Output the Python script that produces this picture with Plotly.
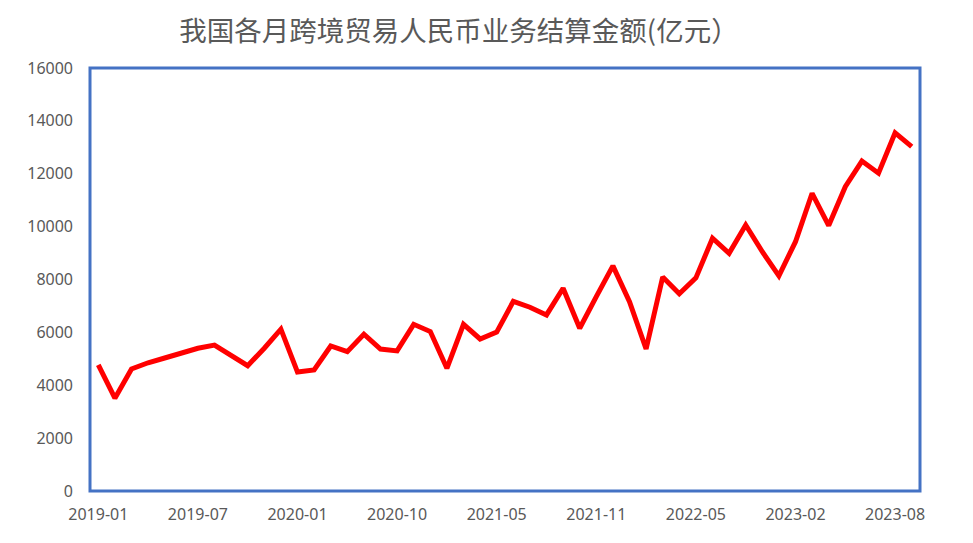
import plotly.graph_objects as go

months = (
    [f"2019-{m:02d}" for m in range(1, 13)]
    + ["2020-01", "2020-03", "2020-04", "2020-06", "2020-07", "2020-09",
       "2020-10", "2020-11", "2020-12", "2021-01", "2021-03", "2021-04"]
    + [f"2021-{m:02d}" for m in range(5, 13)]
    + ["2022-01", "2022-02", "2022-03", "2022-04", "2022-05", "2022-06",
       "2022-08", "2022-09", "2022-11", "2023-01"]
    + [f"2023-{m:02d}" for m in range(2, 10)]
)

values = [
    4770, 3510, 4615, 4850, 5030, 5210, 5400, 5520, 5150, 4740, 5400, 6120,
    4500, 4580, 5485, 5270, 5930, 5370, 5300, 6305, 6030, 4640, 6305, 5750,
    6010, 7175, 6950, 6660, 7670, 6155, 7350, 8515, 7160, 5370, 8095, 7460,
    8060, 9560, 8990, 10060, 9050, 8140, 9430, 11260, 10040, 11510, 12480, 12020,
    13550, 13025,
]

tick_labels = months[::6]
y_ticks = list(range(0, 16001, 2000))

fig = go.Figure()
fig.add_trace(go.Scatter(
    x=months, y=values, mode="lines",
    line=dict(color="#FF0000", width=5),
    hoverinfo="x+y",
))

font_axis = dict(family="Noto Sans, Open Sans, sans-serif", size=16, color="#595959")

W, H = 957, 527  # page body has an 8px margin
fig.update_layout(
    width=W, height=H,
    margin=dict(l=82, r=W - 912, t=60, b=H - 483, autoexpand=False),
    paper_bgcolor="white", plot_bgcolor="white",
    showlegend=False,
    title=dict(
        text="我国各月跨境贸易人民币业务结算金额(亿元）",
        x=(459 - 8) / W, xanchor="center", xref="container",
        y=1 - 23 / H, yanchor="middle", yref="container",
        font=dict(family="Noto Sans CJK SC, sans-serif", size=27.5, color="#595959"),
    ),
    xaxis=dict(
        type="category", automargin=False,
        categoryorder="array", categoryarray=months,
        range=[-0.5, len(months) - 0.5],
        tickmode="array", tickvals=tick_labels, ticktext=tick_labels,
        showgrid=False, zeroline=False, showline=False,
        ticks="", tickfont=font_axis, ticklabelstandoff=12,
    ),
    yaxis=dict(
        range=[0, 16000], automargin=False,
        tickmode="array", tickvals=y_ticks, ticktext=[str(v) for v in y_ticks],
        showgrid=False, zeroline=False, showline=False,
        ticks="", tickfont=font_axis, ticklabelstandoff=16,
    ),
    shapes=[dict(
        type="rect", xref="paper", yref="paper", x0=0, y0=0, x1=1, y1=1,
        line=dict(color="#4472C4", width=3), fillcolor="rgba(0,0,0,0)",
        layer="above",
    )],
)

fig.write_html("out.html")
